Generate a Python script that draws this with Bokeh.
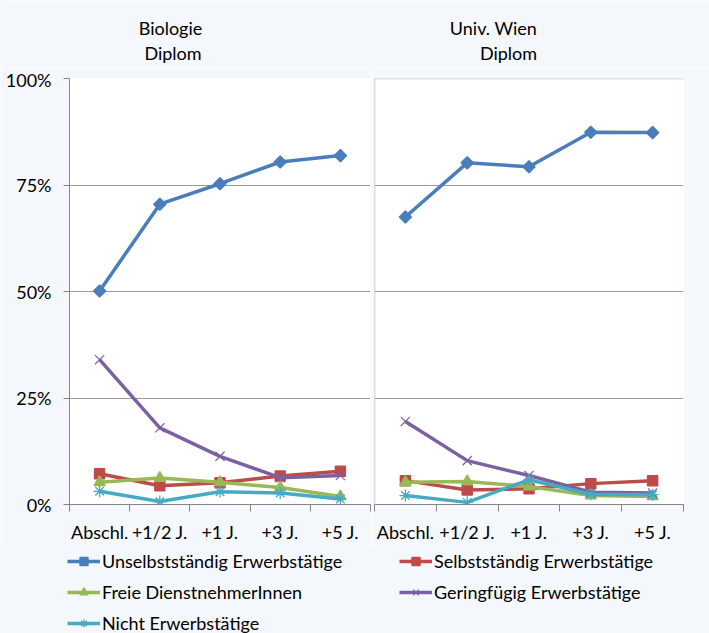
from bokeh.plotting import figure
from bokeh.models import (Range1d, FixedTicker, Legend, LegendItem, Span,
                          PrintfTickFormatter, ColumnDataSource)
from bokeh.core.properties import value
from bokeh.layouts import row, column
from bokeh.embed import file_html
from bokeh.resources import INLINE
import numpy as np

categories = ["Abschl.", "+1/2 J.", "+1 J.", "+3 J.", "+5 J."]
series_names = ["Unselbstständig Erwerbstätige", "Selbstständig Erwerbstätige",
                "Freie DienstnehmerInnen", "Geringfügig Erwerbstätige",
                "Nicht Erwerbstätige"]
panel_titles = [["Biologie", "Diplom"], ["Univ. Wien", "Diplom"]]

bio_unselbst = [50.1, 70.5, 75.3, 80.4, 81.9]
bio_selbst = [7.2, 4.4, 5.1, 6.7, 7.8]
bio_freie = [5.2, 6.2, 5.2, 4.0, 1.9]
bio_gering = [34.0, 18.0, 11.3, 6.3, 6.8]
bio_nicht = [3.1, 0.7, 3.0, 2.7, 1.3]

wien_unselbst = [67.5, 80.2, 79.3, 87.4, 87.3]
wien_selbst = [5.6, 3.4, 3.7, 4.9, 5.6]
wien_freie = [5.2, 5.4, 4.2, 2.1, 1.9]
wien_gering = [19.5, 10.3, 6.8, 2.9, 2.7]
wien_nicht = [2.1, 0.5, 5.8, 2.4, 2.3]

y_ticks = [0, 25, 50, 75, 100]

BG = "#F4F7FC"
FONT = "Lato"
colors = ["#4A7EBB", "#BE4B48", "#98B954", "#7D60A0", "#46AAC5"]
markers = ["square", "square", "triangle", "x", "asterisk"]
angles = [np.pi / 4, 0, 0, 0, 0]
sizes = [8.5, 10, 11, 13, 12]
marker_lw = [1.5, 1.5, 1.5, 1.2, 1.3]

xpos = [i + 0.5 for i in range(len(categories))]

TOP_H = 68          # title strip height
PANEL_H = 477       # panel height (frame from y=78 to y=505 on the page)
FRAME_TOP_PAD = 10
FRAME_BOTTOM_PAD = 40


def add_series(p, series):
    out = []
    for ys, c, m, a, s, lw in zip(series, colors, markers, angles, sizes, marker_lw):
        lr = p.line(xpos, ys, line_color=c, line_width=3.5)
        sr = p.scatter(xpos, ys, marker=m, angle=a, size=s, fill_color=c,
                       line_color=c, line_width=lw)
        out.append((lr, sr))
    return out


def make_panel(width, min_left, min_right, series, left_axis):
    p = figure(width=width, height=PANEL_H, x_range=Range1d(0, len(categories)),
               y_range=Range1d(0, 100), output_backend="svg", toolbar_location=None,
               min_border_left=min_left, min_border_right=min_right,
               min_border_top=FRAME_TOP_PAD, min_border_bottom=FRAME_BOTTOM_PAD,
               background_fill_color="white", border_fill_color=BG,
               outline_line_color=None)

    xa = p.xaxis[0]
    xa.ticker = FixedTicker(ticks=xpos, minor_ticks=list(range(len(categories) + 1)))
    xa.major_label_overrides = {x: c for x, c in zip(xpos, categories)}
    xa.major_tick_line_color = None
    xa.major_tick_out = 7
    xa.major_tick_in = 0
    xa.minor_tick_out = 7
    xa.minor_tick_in = 0
    xa.minor_tick_line_color = "#868686"
    xa.axis_line_color = "#868686"
    xa.major_label_standoff = 9
    xa.major_label_text_font = FONT
    xa.major_label_text_font_size = "18px"
    xa.major_label_text_color = "black"
    p.xgrid.visible = False

    ya = p.yaxis[0]
    if left_axis:
        ya.ticker = FixedTicker(ticks=y_ticks, minor_ticks=[])
        ya.formatter = PrintfTickFormatter(format="%d%%")
        ya.major_tick_out = 6
        ya.major_tick_in = 0
        ya.major_tick_line_color = "#868686"
        ya.axis_line_color = "#868686"
        ya.major_label_standoff = 12
        ya.major_label_text_font = FONT
        ya.major_label_text_font_size = "18px"
        ya.major_label_text_color = "black"
        p.ygrid.ticker = FixedTicker(ticks=[t for t in y_ticks if t > 0], minor_ticks=[])
    else:
        ya.visible = False
        p.ygrid.ticker = FixedTicker(ticks=[t for t in y_ticks if 0 < t < 100], minor_ticks=[])
        p.add_layout(Span(location=100, dimension="width", line_color="#BFBFBF", line_width=1.5))
        p.add_layout(Span(location=0, dimension="height", line_color="#BFBFBF", line_width=1.5))
    p.ygrid.grid_line_color = "#9A9A9A"

    add_series(p, series)
    return p


# ---- title strip (pixel-like ranges: x from left, y from top) ----
p0 = figure(width=709, height=TOP_H, x_range=Range1d(0, 709), y_range=Range1d(TOP_H, 0),
            output_backend="svg", toolbar_location=None, min_border=0,
            x_axis_location=None, y_axis_location=None,
            background_fill_color=BG, border_fill_color=BG, outline_line_color=None)
p0.grid.visible = False
title_src = ColumnDataSource(dict(
    x=[170, 172.5, 493, 508],
    y=[27, 52, 27, 52],
    text=[panel_titles[0][0], panel_titles[0][1], panel_titles[1][0], panel_titles[1][1]],
))
p0.text(x="x", y="y", text="text", source=title_src, text_align="center",
        text_baseline="middle", text_font=value(FONT), text_font_size="18px",
        text_color="black")

p1 = make_panel(371, 69, 1,
                [bio_unselbst, bio_selbst, bio_freie, bio_gering, bio_nicht], True)
p2 = make_panel(338, 3, 26,
                [wien_unselbst, wien_selbst, wien_freie, wien_gering, wien_nicht], False)

# ---- legend strip below both panels (its own renderers lie outside the visible range) ----
LEG_H = 88
p3 = figure(width=709, height=LEG_H, x_range=Range1d(0, len(categories)),
            y_range=Range1d(500, 600), output_backend="svg", toolbar_location=None,
            min_border=0, x_axis_location=None, y_axis_location=None,
            background_fill_color=BG, border_fill_color=BG, outline_line_color=None)
p3.grid.visible = False
rends = add_series(p3, [bio_unselbst, bio_selbst, bio_freie, bio_gering, bio_nicht])

ITEM_H = 22
SPACING = 9
LEG_TOP = 5


def make_legend(idx, x):
    h = len(idx) * ITEM_H + (len(idx) - 1) * SPACING
    return Legend(items=[LegendItem(label=series_names[i], renderers=list(rends[i]))
                         for i in idx],
                  location=(x, LEG_H - LEG_TOP - h), orientation="vertical",
                  border_line_color=None, background_fill_alpha=0,
                  margin=0, padding=0, spacing=SPACING, glyph_width=33,
                  glyph_height=20, label_height=20, label_standoff=2,
                  label_text_font=FONT, label_text_font_size="18px",
                  label_text_color="black")


p3.add_layout(make_legend([0, 2, 4], 67), "center")
p3.add_layout(make_legend([1, 3], 399), "center")

layout = column(p0, row(p1, p2), p3)
open("out.html", "w").write(file_html(layout, INLINE))
